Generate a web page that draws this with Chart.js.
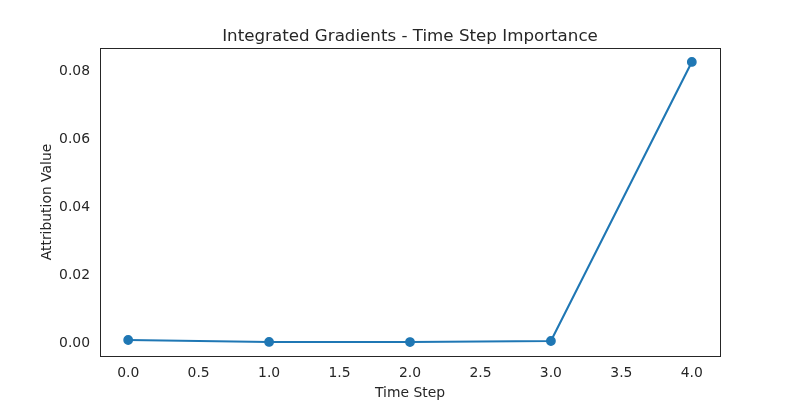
<!DOCTYPE html>
<html>
<head>
<meta charset="utf-8">
<script src="https://cdn.jsdelivr.net/npm/chart.js@4"></script>
<style>
html,body{margin:0;padding:0;background:#fff;}
#wrap{width:800px;height:400px;}
</style>
</head>
<body>
<div id="wrap"><canvas id="c" width="800" height="400"></canvas></div>
<script>
const timeSteps = [0, 1, 2, 3, 4];
const attribution = [0.0005, -0.00008, -0.0001, 0.0002, 0.0821];
const xTicks = [0.0, 0.5, 1.0, 1.5, 2.0, 2.5, 3.0, 3.5, 4.0];
const yTicks = [0.00, 0.02, 0.04, 0.06, 0.08];
const chartTitle = 'Integrated Gradients - Time Step Importance';

const TEXT = '#262626';
const FONT = 'DejaVu Sans';

const boxPlugin = {
  id: 'box',
  afterDatasetsDraw(chart) {
    const {ctx, chartArea: a} = chart;
    ctx.save();
    ctx.strokeStyle = TEXT;
    ctx.lineWidth = 1;
    const l = Math.round(a.left) + 0.5, t = Math.round(a.top) + 0.5;
    const r = Math.round(a.right) + 0.5, b = Math.round(a.bottom) + 0.5;
    ctx.strokeRect(l, t, r - l, b - t);
    ctx.fillStyle = TEXT;
    ctx.font = '16.7px "' + FONT + '"';
    ctx.textAlign = 'center';
    ctx.textBaseline = 'alphabetic';
    ctx.fillText(chartTitle, (a.left + a.right) / 2, 40.7);
    ctx.restore();
  }
};

new Chart(document.getElementById('c'), {
  type: 'line',
  data: {
    datasets: [{
      data: timeSteps.map((x, i) => ({x: x, y: attribution[i]})),
      borderColor: '#1f77b4',
      backgroundColor: '#1f77b4',
      borderWidth: 2.1,
      pointRadius: 4.2,
      pointHoverRadius: 4.2,
      pointBorderWidth: 1.4,
      pointBorderColor: '#1f77b4',
      pointBackgroundColor: '#1f77b4',
      tension: 0,
      fill: false
    }]
  },
  options: {
    responsive: false,
    animation: false,
    devicePixelRatio: 1,
    layout: {padding: {left: 0, right: 80, top: 48, bottom: 0}},
    plugins: {
      legend: {display: false},
      tooltip: {enabled: false},
      title: {display: false}
    },
    scales: {
      x: {
        type: 'linear',
        min: -0.2,
        max: 4.2,
        grid: {display: false, drawTicks: false},
        border: {display: false},
        afterBuildTicks(s) { s.ticks = xTicks.map(v => ({value: v})); },
        afterFit(s) { s.height = 44; },
        ticks: {
          color: TEXT,
          font: {family: FONT, size: 13.9},
          padding: 9,
          maxRotation: 0,
          autoSkip: false,
          callback: v => Number(v).toFixed(1)
        },
        title: {
          display: true,
          text: 'Time Step',
          color: TEXT,
          font: {family: FONT, size: 13.9},
          padding: {top: 0, bottom: -1.5}
        }
      },
      y: {
        type: 'linear',
        min: -0.0042,
        max: 0.0862,
        grid: {display: false, drawTicks: false},
        border: {display: false},
        afterBuildTicks(s) { s.ticks = yTicks.map(v => ({value: v})); },
        afterFit(s) { s.width = 100; },
        ticks: {
          color: TEXT,
          font: {family: FONT, size: 13.9},
          padding: 10,
          labelOffset: 2,
          autoSkip: false,
          callback: v => Number(v).toFixed(2)
        },
        title: {
          display: true,
          text: 'Attribution Value',
          color: TEXT,
          font: {family: FONT, size: 13.9},
          padding: {top: 39, bottom: 0}
        }
      }
    }
  },
  plugins: [boxPlugin]
});
</script>
</body>
</html>
